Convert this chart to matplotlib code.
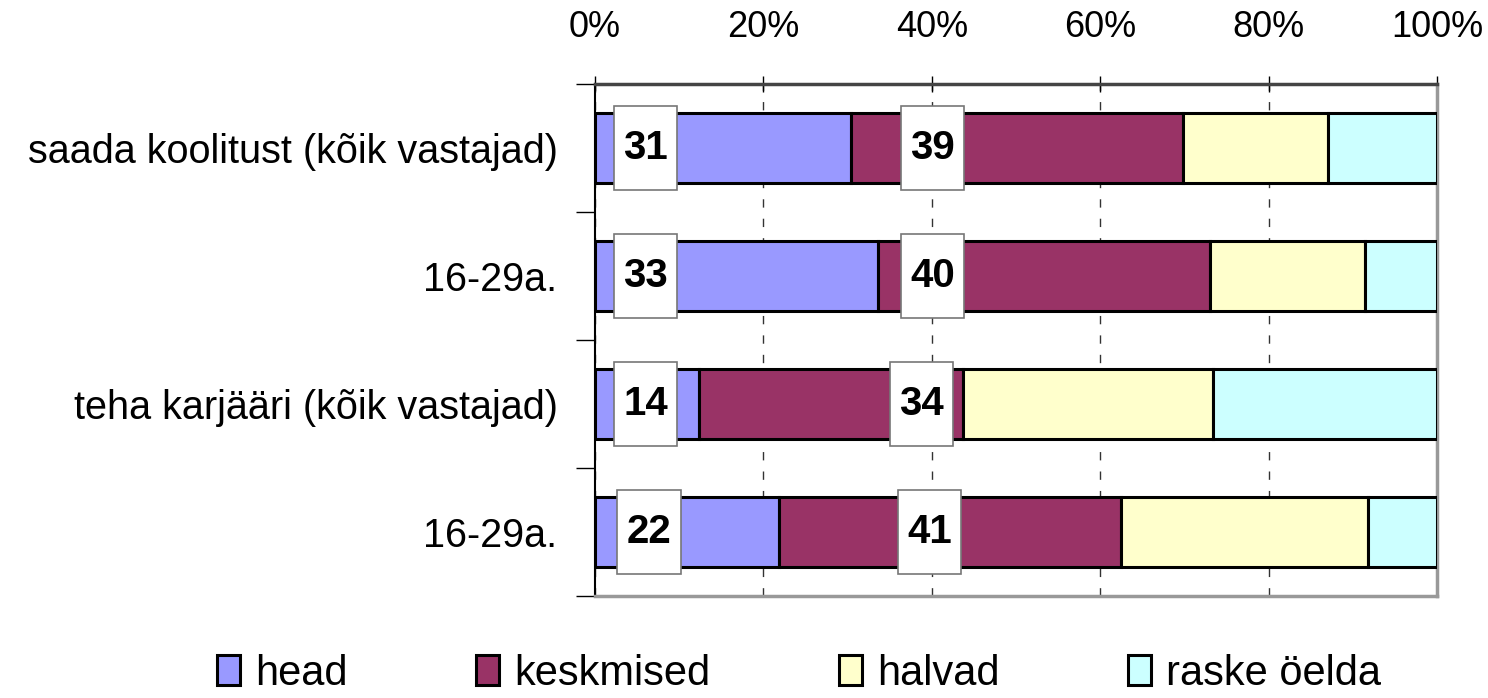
import matplotlib.pyplot as plt
from matplotlib.patches import Rectangle
import numpy as np

plt.rcParams['font.family'] = ['Liberation Sans', 'DejaVu Sans']

categories = ['saada koolitust (kõik vastajad)', '16-29a.',
              'teha karjääri (kõik vastajad)', '16-29a.']
series = ['head', 'keskmised', 'halvad', 'raske öelda']
colors = ['#9999ff', '#993366', '#ffffcc', '#ccffff']

head = [30.4, 33.6, 12.4, 21.9]
keskmised = [39.4, 39.4, 31.3, 40.6]
halvad = [17.3, 18.4, 29.7, 29.3]
raske = [12.9, 8.6, 26.6, 8.2]

# numbers printed in the white boxes
head_labels = [31, 33, 14, 22]
kesk_labels = [39, 40, 34, 41]

# where the boxes sit (in % of the axis)
head_box_x = [6.0, 6.0, 6.0, 6.4]
kesk_box_x = [40.1, 40.1, 38.8, 39.7]

fig = plt.figure(figsize=(14.88, 6.98), dpi=100)
ax = fig.add_axes([0.3999, 0.1461, 0.5658, 0.7336])

y = np.arange(len(categories))
left = np.zeros(len(categories))
for name, vals, c in zip(series, [head, keskmised, halvad, raske], colors):
    ax.barh(y, vals, left=left, height=0.55, color=c, edgecolor='black',
            linewidth=2.2, label=name, zorder=3)
    left += np.array(vals)

# value boxes
bw, bh = 7.5, 0.65
for i in range(len(categories)):
    for xc, val in [(head_box_x[i], head_labels[i]), (kesk_box_x[i], kesk_labels[i])]:
        ax.add_patch(Rectangle((xc - bw / 2, y[i] - bh / 2), bw, bh,
                               facecolor='white', edgecolor='#777777',
                               linewidth=1.2, zorder=4))
        ax.text(xc, y[i], str(val), ha='center', va='center',
                fontsize=29, fontweight='bold', zorder=5)

ax.set_xlim(0, 100)
ax.set_ylim(3.5, -0.5)
ax.xaxis.tick_top()
ax.set_xticks(np.arange(0, 101, 20))
ax.set_xticklabels([f'{v}%' for v in range(0, 101, 20)])
ax.tick_params(axis='x', direction='inout', length=12, width=1, pad=22,
               labelsize=26)
ax.set_yticks(y)
ax.set_yticklabels(categories)
ax.set_yticks(np.arange(-0.5, 4, 1), minor=True)
ax.tick_params(axis='y', which='major', length=0, pad=27, labelsize=28.5)
ax.tick_params(axis='y', which='minor', length=14, width=1, direction='out')
ax.grid(axis='x', linestyle=(0, (6, 8)), color='#333333', linewidth=1,
        zorder=0)

ax.spines['left'].set_color('black')
ax.spines['left'].set_linewidth(1.5)
ax.spines['top'].set_color('#444444')
ax.spines['top'].set_linewidth(2.5)
for s in ['right', 'bottom']:
    ax.spines[s].set_color('#999999')
    ax.spines[s].set_linewidth(2.5)

ax.legend(loc='center', bbox_to_anchor=(0.537, 0.035),
          bbox_transform=fig.transFigure, ncol=4, frameon=False,
          fontsize=30, handlelength=0.55, handleheight=0.7,
          handletextpad=0.35, columnspacing=3.1, borderpad=0)

fig.savefig('out.png', dpi=100)
